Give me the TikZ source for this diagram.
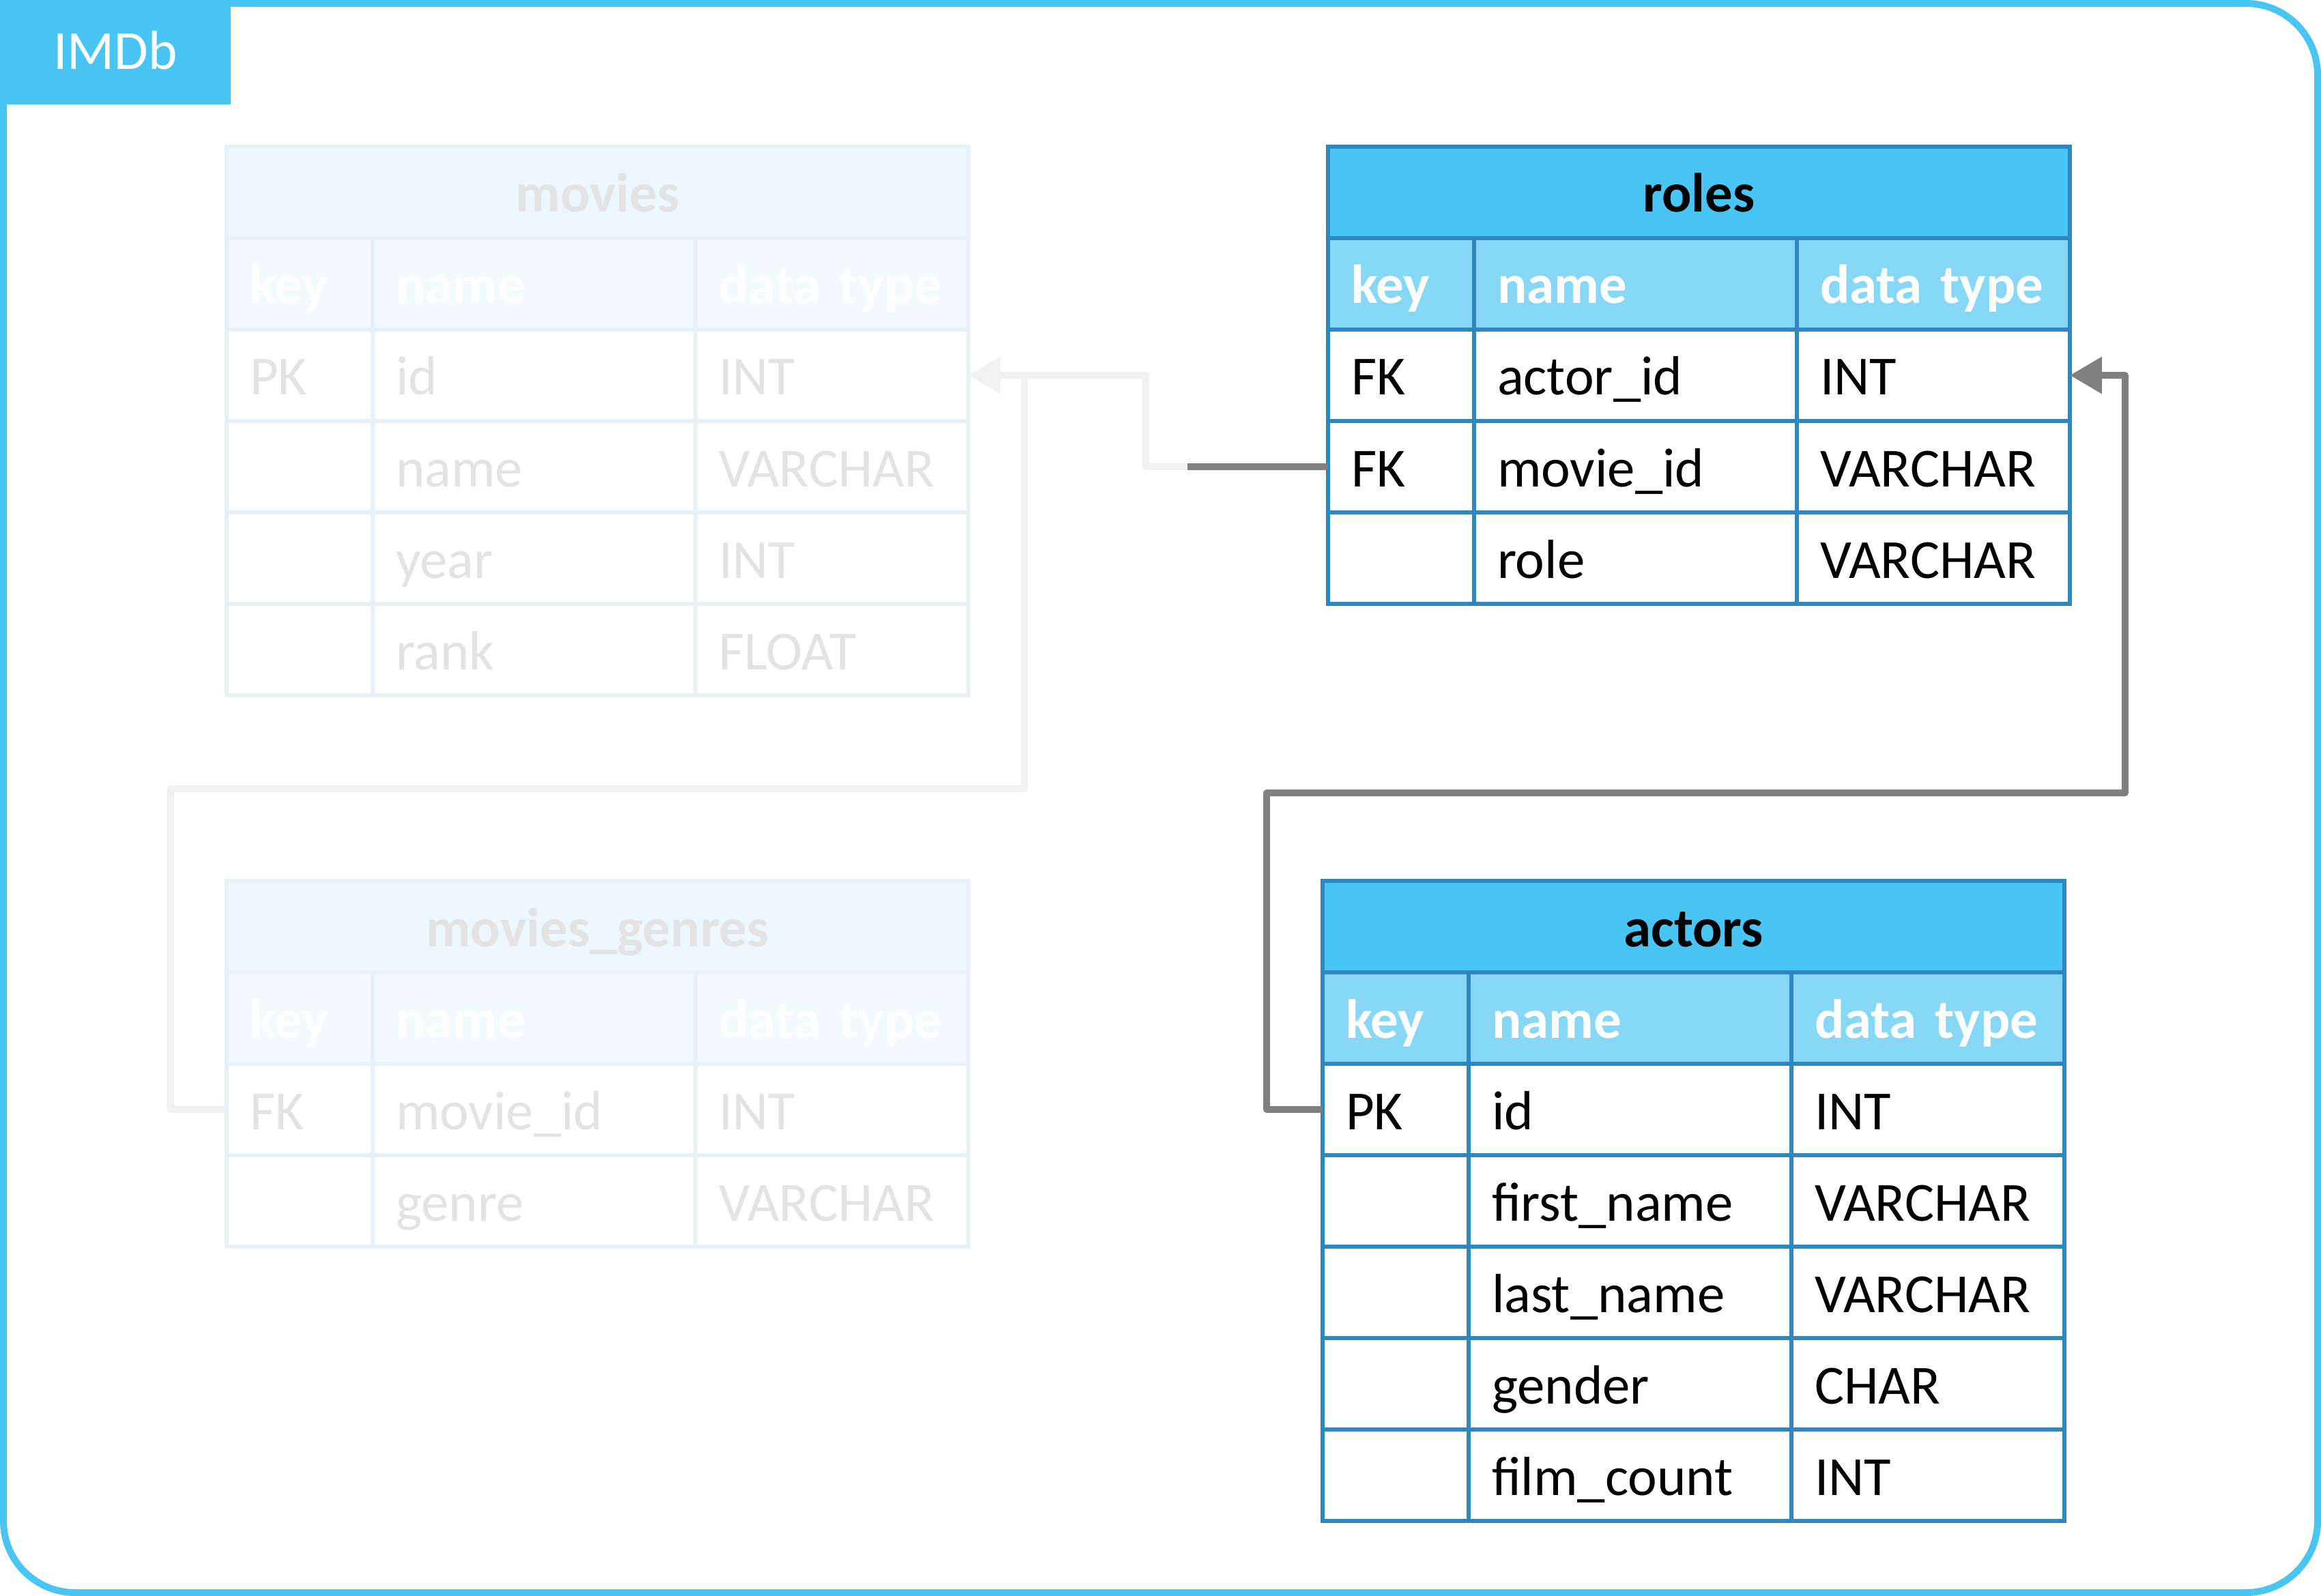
\documentclass[tikz,border=0pt]{standalone}
\usepackage{fontspec}
\setmainfont{Carlito}
\usetikzlibrary{arrows.meta}
\definecolor{FrameBlue}{HTML}{48C5F3}
\definecolor{LineBlue}{HTML}{2F87C0}
\definecolor{HeadBlue}{HTML}{87D8F7}
\definecolor{GhostLine}{HTML}{E8F1F8}
\definecolor{GhostTitle}{HTML}{EDF8FE}
\definecolor{GhostHead}{HTML}{F2FAFE}
\definecolor{GhostText}{HTML}{E3E3E3}
\definecolor{GhostLink}{HTML}{F1F1F1}
\definecolor{LinkGray}{HTML}{808080}
\tikzset{
    cell/.style={
        draw=LineBlue,
        fill=white,
        line width=0.055cm,
        anchor=north west,
        outer sep=0pt,
        inner xsep=0.34cm,
        inner ysep=0pt,
        minimum height=1.34cm,
        text height=0.64cm,
        text depth=0.06cm,
        align=left,
        text=black,
        font=\fontsize{23pt}{27pt}\selectfont
    },
    keycell/.style={cell, minimum width=2.14cm, text width=1.46cm},
    namecell/.style={cell, minimum width=4.73cm, text width=4.05cm},
    typecell/.style={cell, minimum width=4.00cm, text width=3.32cm},
    titlecell/.style={
        cell,
        fill=FrameBlue,
        minimum width=10.87cm,
        text width=10.19cm,
        align=center,
        font=\fontsize{23pt}{27pt}\selectfont\bfseries
    },
    head/.style={
        fill=HeadBlue,
        text=white,
        font=\fontsize{23pt}{27pt}\selectfont\bfseries
    },
    ghost/.style={draw=GhostLine, text=GhostText},
    ghosttitle/.style={titlecell, ghost, fill=GhostTitle},
    ghosthead/.style={head, draw=GhostLine, fill=GhostHead},
    frame/.style={
        draw=FrameBlue,
        line width=0.1cm,
        rounded corners=1.05cm
    },
    dbtag/.style={
        fill=FrameBlue,
        text=white,
        anchor=north west,
        minimum width=3.38cm,
        minimum height=1.53cm,
        inner sep=0pt,
        outer sep=0pt,
        text height=0.5cm,
        text depth=0pt,
        font=\fontsize{23pt}{28pt}\selectfont
    },
    link/.style={
        draw=LinkGray,
        line width=0.1cm,
        line join=round,
        >={Triangle[length=0.47cm, width=0.52cm]}
    },
    ghostlink/.style={link, draw=GhostLink}
}

\begin{document}
\begin{tikzpicture}
    \useasboundingbox (0,0) rectangle (34.01,-23.39);

    % Outer frame and database tag
    \draw[frame] (0.05,-0.05) rectangle (33.96,-23.34);
    \node[dbtag] (db) at (0,0) {IMDb};

    % movies (faded)
    \begin{scope}[shift={(3.32,-2.15)}]
        \node[ghosttitle] (m-t) at (0,0) {movies};
        \node[keycell, ghosthead] (m-k0) at (0,-1.34) {key};
        \node[namecell, ghosthead] (m-n0) at (2.14,-1.34) {name};
        \node[typecell, ghosthead] (m-d0) at (6.87,-1.34) {data type};
        \node[keycell, ghost] (m-k1) at (0,-2.68) {PK};
        \node[namecell, ghost] (m-n1) at (2.14,-2.68) {id};
        \node[typecell, ghost] (m-d1) at (6.87,-2.68) {INT};
        \node[keycell, ghost] (m-k2) at (0,-4.02) {};
        \node[namecell, ghost] (m-n2) at (2.14,-4.02) {name};
        \node[typecell, ghost] (m-d2) at (6.87,-4.02) {VARCHAR};
        \node[keycell, ghost] (m-k3) at (0,-5.36) {};
        \node[namecell, ghost] (m-n3) at (2.14,-5.36) {year};
        \node[typecell, ghost] (m-d3) at (6.87,-5.36) {INT};
        \node[keycell, ghost] (m-k4) at (0,-6.70) {};
        \node[namecell, ghost] (m-n4) at (2.14,-6.70) {rank};
        \node[typecell, ghost] (m-d4) at (6.87,-6.70) {FLOAT};
    \end{scope}

    % movies_genres (faded)
    \begin{scope}[shift={(3.32,-12.91)}]
        \node[ghosttitle] (g-t) at (0,0) {movies\_genres};
        \node[keycell, ghosthead] (g-k0) at (0,-1.34) {key};
        \node[namecell, ghosthead] (g-n0) at (2.14,-1.34) {name};
        \node[typecell, ghosthead] (g-d0) at (6.87,-1.34) {data type};
        \node[keycell, ghost] (g-k1) at (0,-2.68) {FK};
        \node[namecell, ghost] (g-n1) at (2.14,-2.68) {movie\_id};
        \node[typecell, ghost] (g-d1) at (6.87,-2.68) {INT};
        \node[keycell, ghost] (g-k2) at (0,-4.02) {};
        \node[namecell, ghost] (g-n2) at (2.14,-4.02) {genre};
        \node[typecell, ghost] (g-d2) at (6.87,-4.02) {VARCHAR};
    \end{scope}

    % roles
    \begin{scope}[shift={(19.46,-2.15)}]
        \node[titlecell] (r-t) at (0,0) {roles};
        \node[keycell, head] (r-k0) at (0,-1.34) {key};
        \node[namecell, head] (r-n0) at (2.14,-1.34) {name};
        \node[typecell, head] (r-d0) at (6.87,-1.34) {data type};
        \node[keycell] (r-k1) at (0,-2.68) {FK};
        \node[namecell] (r-n1) at (2.14,-2.68) {actor\_id};
        \node[typecell] (r-d1) at (6.87,-2.68) {INT};
        \node[keycell] (r-k2) at (0,-4.02) {FK};
        \node[namecell] (r-n2) at (2.14,-4.02) {movie\_id};
        \node[typecell] (r-d2) at (6.87,-4.02) {VARCHAR};
        \node[keycell] (r-k3) at (0,-5.36) {};
        \node[namecell] (r-n3) at (2.14,-5.36) {role};
        \node[typecell] (r-d3) at (6.87,-5.36) {VARCHAR};
    \end{scope}

    % actors
    \begin{scope}[shift={(19.38,-12.91)}]
        \node[titlecell] (a-t) at (0,0) {actors};
        \node[keycell, head] (a-k0) at (0,-1.34) {key};
        \node[namecell, head] (a-n0) at (2.14,-1.34) {name};
        \node[typecell, head] (a-d0) at (6.87,-1.34) {data type};
        \node[keycell] (a-k1) at (0,-2.68) {PK};
        \node[namecell] (a-n1) at (2.14,-2.68) {id};
        \node[typecell] (a-d1) at (6.87,-2.68) {INT};
        \node[keycell] (a-k2) at (0,-4.02) {};
        \node[namecell] (a-n2) at (2.14,-4.02) {first\_name};
        \node[typecell] (a-d2) at (6.87,-4.02) {VARCHAR};
        \node[keycell] (a-k3) at (0,-5.36) {};
        \node[namecell] (a-n3) at (2.14,-5.36) {last\_name};
        \node[typecell] (a-d3) at (6.87,-5.36) {VARCHAR};
        \node[keycell] (a-k4) at (0,-6.70) {};
        \node[namecell] (a-n4) at (2.14,-6.70) {gender};
        \node[typecell] (a-d4) at (6.87,-6.70) {CHAR};
        \node[keycell] (a-k5) at (0,-8.04) {};
        \node[namecell] (a-n5) at (2.14,-8.04) {film\_count};
        \node[typecell] (a-d5) at (6.87,-8.04) {INT};
    \end{scope}

    % Bend points
    \coordinate (fade) at ([xshift=-2.06cm]r-k2.west);
    \coordinate (rbend) at (16.79,-6.84);
    \coordinate (gA) at (2.50,-11.56);
    \coordinate (gB) at (15.01,-11.56);
    \coordinate (aA) at (18.56,-11.62);
    \coordinate (aB) at (31.14,-11.62);

    % Connectors
    \draw[ghostlink, ->] (g-k1.west) -| (gA) -- (gB) |- (m-d1.east);
    \draw[ghostlink, ->] (fade) -- (rbend) |- (m-d1.east);
    \draw[link] (r-k2.west) -- (fade);
    \draw[link, ->] (a-k1.west) -| (aA) -- (aB) |- (r-d1.east);
\end{tikzpicture}
\end{document}
